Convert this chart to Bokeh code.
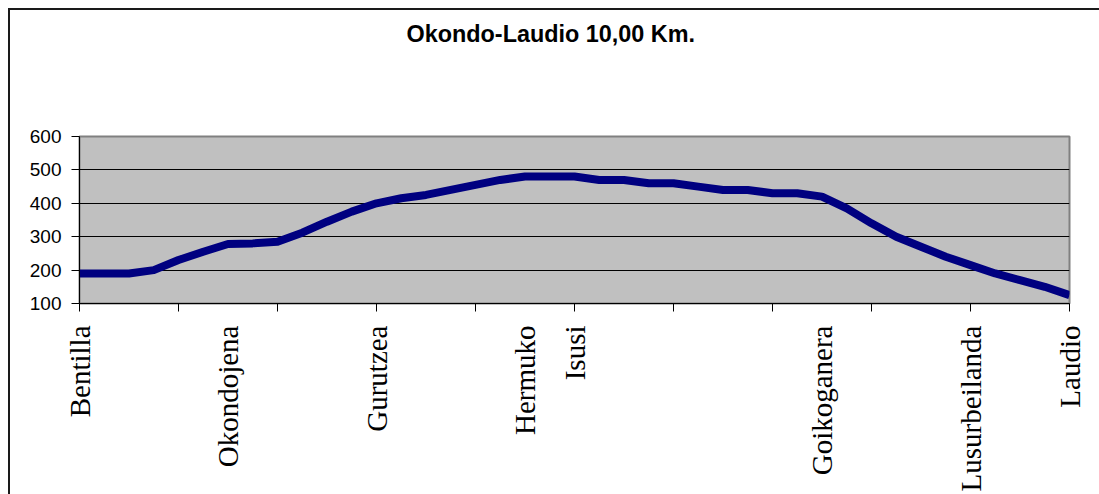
import math
from bokeh.plotting import figure
from bokeh.models import FixedTicker, Range1d, Title
from bokeh.embed import file_html
from bokeh.resources import INLINE

# Distance along the route (km) and elevation (m)
distance_km = [0.0, 0.25, 0.5, 0.75, 1.0, 1.25, 1.5, 1.75, 2.0, 2.25,
               2.5, 2.75, 3.0, 3.25, 3.5, 3.75, 4.0, 4.25, 4.5, 4.75,
               5.0, 5.25, 5.5, 5.75, 6.0, 6.25, 6.5, 6.75, 7.0, 7.25,
               7.5, 7.75, 8.0, 8.25, 8.5, 8.75, 9.0, 9.25, 9.5, 9.75, 10.0]
elevation_m = [190, 190, 190, 200, 230, 255, 278, 280, 285, 312,
               345, 375, 400, 415, 425, 440, 455, 470, 480, 480,
               480, 470, 470, 460, 460, 450, 440, 440, 430, 430,
               420, 385, 340, 300, 270, 240, 215, 190, 170, 150, 125]

place_km = [0.0, 1.5, 3.0, 4.5, 5.0, 7.5, 9.0, 10.0]
place_names = ["Bentilla", "Okondojena", "Gurutzea", "Hermuko", "Isusi",
               "Goikoganera", "Lusurbeilanda", "Laudio"]
km_ticks = [0, 1, 2, 3, 4, 5, 6, 7, 8, 9, 10]
y_ticks = [100, 200, 300, 400, 500, 600]
grid_ticks = [200, 300, 400, 500]
title_text = "Okondo-Laudio 10,00 Km."

p = figure(width=1099, height=494, output_backend="svg", toolbar_location=None,
           x_range=Range1d(0, 10), y_range=Range1d(100, 600),
           min_border_left=79, min_border_right=30,
           min_border_top=136, min_border_bottom=191)

# chart-area border (top and left edges only, as in the reference)
p.styles = {
    "background-image": "linear-gradient(#1a1a1a,#1a1a1a), linear-gradient(#1a1a1a,#1a1a1a)",
    "background-size": "1091px 2px, 2px 486px",
    "background-position": "8px 8px, 8px 8px",
    "background-repeat": "no-repeat",
}

# white (invisible on the white page) spacer panel between frame and title
p.add_layout(Title(text=".", text_font_size="1px", standoff=86,
                   text_color="white"), "above")

# the real title (outermost panel)
p.title.text = title_text
p.title.text_font = "Liberation Sans"
p.title.text_font_style = "bold"
p.title.text_font_size = "23.4px"
p.title.text_color = "black"
p.title.align = "left"
p.title.offset = 327
p.title.vertical_align = "middle"
p.title.standoff = 0

p.background_fill_color = "#C0C0C0"
p.border_fill_color = "white"
p.border_fill_alpha = 0.0
p.outline_line_color = "#808080"
p.outline_line_width = 2

p.xgrid.visible = False
p.ygrid.ticker = FixedTicker(ticks=grid_ticks)
p.ygrid.grid_line_color = "black"
p.ygrid.grid_line_width = 1

# y axis
p.yaxis.ticker = FixedTicker(ticks=y_ticks)
p.yaxis.major_tick_out = 8
p.yaxis.major_tick_in = 0
p.yaxis.minor_tick_line_color = None
p.yaxis.major_label_standoff = 10
p.yaxis.major_label_text_font = "Liberation Sans"
p.yaxis.major_label_text_font_size = "19px"
p.yaxis.major_label_text_color = "black"
p.yaxis.axis_line_color = "black"
p.yaxis.major_tick_line_color = "black"

# x axis: integer km tick marks, place names as rotated labels
p.xaxis.ticker = FixedTicker(ticks=place_km, minor_ticks=km_ticks)
p.xaxis.major_label_overrides = {k: n for k, n in zip(place_km, place_names)}
p.xaxis.major_tick_out = 0
p.xaxis.major_tick_in = 0
p.xaxis.minor_tick_out = 8
p.xaxis.minor_tick_in = 0
p.xaxis.minor_tick_line_color = "black"
p.xaxis.major_label_orientation = math.pi / 2
p.xaxis.major_label_standoff = 14
p.xaxis.major_label_text_font = "Liberation Serif"
p.xaxis.major_label_text_font_size = "29px"
p.xaxis.major_label_text_color = "black"
p.xaxis.axis_line_color = "black"

p.line(distance_km, elevation_m, line_color="#000080", line_width=8,
       line_join="round")

open("out.html", "w").write(file_html(p, INLINE))
